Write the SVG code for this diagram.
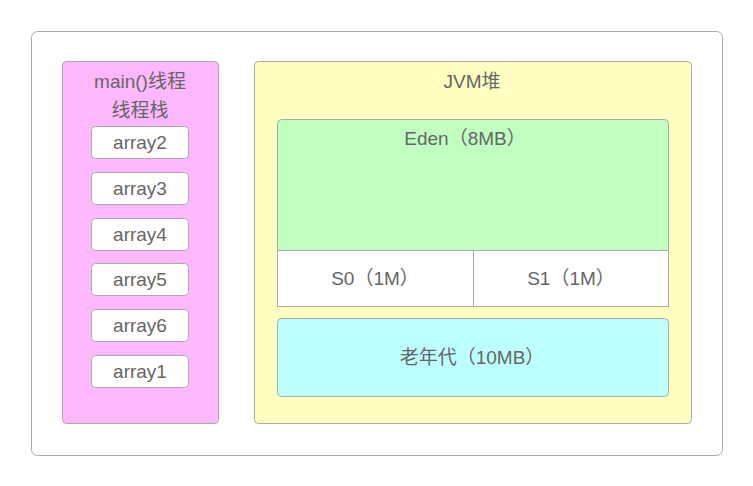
<svg xmlns="http://www.w3.org/2000/svg" width="753" height="486" viewBox="0 0 753 486">
<style>
text{font-family:"Liberation Sans","Noto Sans CJK SC",sans-serif;font-size:19px;fill:#666;text-anchor:middle}
.b{stroke:#aaa;stroke-width:1}
</style>
<rect width="753" height="486" fill="#fff"/>
<g id="outer"><rect x="31.5" y="31.5" width="691" height="424" rx="6" fill="#fff" class="b"/></g>
<g id="stack">
<rect x="62.5" y="61.5" width="156" height="362" rx="4" fill="#feb9fe" class="b"/>
<text x="140" y="88">main()线程</text>
<text x="140" y="117">线程栈</text>
</g>
<g id="array2"><rect x="91.5" y="126.5" width="97" height="32" rx="4" fill="#fff" class="b"/><text x="140" y="149">array2</text></g>
<g id="array3"><rect x="91.5" y="172.5" width="97" height="32" rx="4" fill="#fff" class="b"/><text x="140" y="195">array3</text></g>
<g id="array4"><rect x="91.5" y="218.5" width="97" height="32" rx="4" fill="#fff" class="b"/><text x="140" y="241">array4</text></g>
<g id="array5"><rect x="91.5" y="263.5" width="97" height="32" rx="4" fill="#fff" class="b"/><text x="140" y="286">array5</text></g>
<g id="array6"><rect x="91.5" y="309.5" width="97" height="32" rx="4" fill="#fff" class="b"/><text x="140" y="332">array6</text></g>
<g id="array1"><rect x="91.5" y="355.5" width="97" height="32" rx="4" fill="#fff" class="b"/><text x="140" y="378">array1</text></g>
<g id="heap">
<rect x="254.5" y="61.5" width="437" height="362" rx="4" fill="#ffffc2" class="b"/>
<text x="472" y="88">JVM堆</text>
</g>
<g id="eden"><path d="M277.5 250.5V123.5a4 4 0 0 1 4-4H664.5a4 4 0 0 1 4 4V250.5Z" fill="#c0ffc0" class="b"/><text x="465" y="145">Eden（8MB）</text></g>
<g id="s0"><rect x="277.5" y="250.5" width="196" height="56" fill="#fff" class="b"/><text x="375" y="285">S0（1M）</text></g>
<g id="s1"><rect x="473.5" y="250.5" width="195" height="56" fill="#fff" class="b"/><text x="571" y="285">S1（1M）</text></g>
<g id="old"><rect x="277.5" y="318.5" width="391" height="78" rx="4" fill="#bdffff" class="b"/><text x="472" y="364">老年代（10MB）</text></g>
<g id="connectors"/>
</svg>
